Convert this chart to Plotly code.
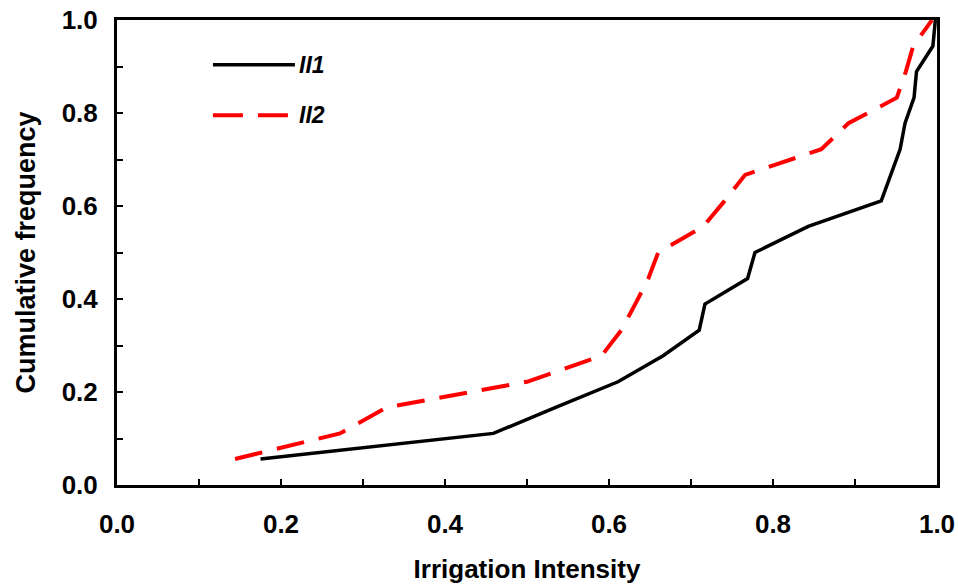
import plotly.graph_objects as go

# Cumulative frequency levels (18 observations each)
freq = [0.056, 0.111, 0.167, 0.222, 0.278, 0.333, 0.389, 0.444, 0.500,
        0.556, 0.611, 0.667, 0.722, 0.778, 0.833, 0.889, 0.944, 1.000]

# Irrigation intensity, series II1 (black solid)
ii1_x = [0.175, 0.459, 0.535, 0.611, 0.666, 0.710, 0.717, 0.769, 0.778,
         0.843, 0.932, 0.944, 0.955, 0.961, 0.972, 0.975, 0.995, 0.998]

# Irrigation intensity, series II2 (red dashed)
ii2_x = [0.144, 0.272, 0.329, 0.500, 0.591, 0.615, 0.632, 0.648, 0.660,
         0.715, 0.741, 0.766, 0.859, 0.892, 0.951, 0.962, 0.971, 0.994]

series_names = ["II1", "II2"]
x_ticks = [0.0, 0.2, 0.4, 0.6, 0.8, 1.0]
y_ticks = [0.0, 0.2, 0.4, 0.6, 0.8, 1.0]

FONT = "Liberation Sans, Arial, sans-serif"

fig = go.Figure()
fig.add_trace(go.Scatter(x=ii1_x, y=freq, mode="lines", name=series_names[0],
                         line=dict(color="black", width=3.5), cliponaxis=False))
fig.add_trace(go.Scatter(x=ii2_x, y=freq, mode="lines", name=series_names[1],
                         line=dict(color="#ff0000", width=4, dash="28px,15px"), cliponaxis=False))

axis_common = dict(
    range=[0, 1], showline=True, linecolor="black", linewidth=3, mirror=True,
    showgrid=False, zeroline=False, ticks="inside", ticklen=6, tickwidth=2,
    tickcolor="black", tickformat=".1f", automargin=False, ticklabeloverflow="allow",
    tickfont=dict(family=FONT, size=26, color="black", weight="bold"),
    minor=dict(dtick=0.1, ticks="inside", ticklen=6, tickwidth=2, tickcolor="black", showgrid=False),
)

fig.update_xaxes(**axis_common, tickvals=x_ticks, ticklabelstandoff=14,
                 title=dict(text="Irrigation Intensity", standoff=23,
                            font=dict(family=FONT, size=26, color="black", weight="bold")))
fig.update_yaxes(**axis_common, tickvals=y_ticks, ticklabelstandoff=11,
                 title=dict(text="Cumulative frequency", standoff=19,
                            font=dict(family=FONT, size=27, color="black", weight="bold")))

# In-plot legend (keys drawn as layout decorations)
legend_rows = [(0.904, "black", "solid", series_names[0]),
               (0.795, "#ff0000", "30px,15px", series_names[1])]
for yy, col, dash, label in legend_rows:
    fig.add_shape(type="line", xref="paper", yref="paper", x0=0.117, x1=0.212 if dash != "solid" else 0.217,
                  y0=yy, y1=yy, line=dict(color=col, width=4 if dash != "solid" else 3.5, dash=dash))
    fig.add_annotation(xref="paper", yref="paper", x=0.2195, y=yy, xanchor="left", yanchor="middle",
                       text=f"<i>{label}</i>", showarrow=False,
                       font=dict(family=FONT, size=23, color="black", weight="bold"))

fig.update_layout(
    width=958, height=584, showlegend=False,
    margin=dict(l=117, r=21, t=20, b=99),
    paper_bgcolor="white", plot_bgcolor="white",
    font=dict(family=FONT, color="black"),
)

# Remove the default page margin so the figure fills the window exactly
fig.write_html("out.html",
               config={"displayModeBar": False},
               post_script="document.body.style.margin='0';document.body.style.overflow='hidden';")
